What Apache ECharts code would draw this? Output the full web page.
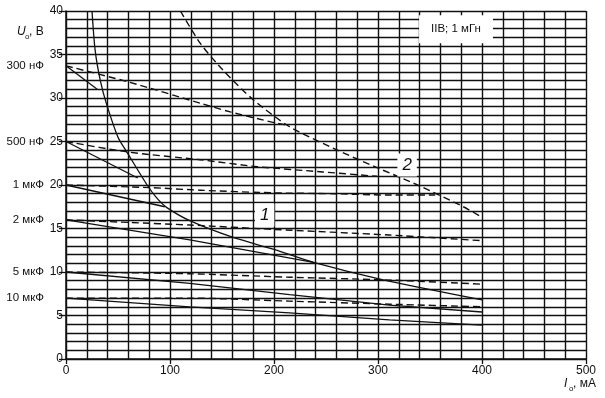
<!DOCTYPE html>
<html>
<head>
<meta charset="utf-8">
<script src="https://cdn.jsdelivr.net/npm/echarts@6/dist/echarts.min.js"></script>
<style>
html,body{margin:0;padding:0;background:#fff;}
#c{width:605px;height:398px;}
</style>
</head>
<body>
<div id="c"></div>
<script>
// ---- data (I in mA, U in V) ----
const xTicks = [0, 100, 200, 300, 400, 500];
const yTicks = [0, 5, 10, 15, 20, 25, 30, 35, 40];
const capLabels = ['300 нФ', '500 нФ', '1 мкФ', '2 мкФ', '5 мкФ', '10 мкФ'];
const capStart = [33.7, 25, 20, 16, 10, 7];

const curve1 = [[25,40],[28,35.5],[33,32],[39,29.3],[50,25.5],[59,23.7],[78,20],[88,18.4],[97,17.4],[119,15.9],[160,14.0],[200,12.6],[238,11.1],[305,9.1],[400,6.8]];
const curve2 = [[110,40],[129,36.3],[151,33.2],[180,29.8],[215,26.7],[261,24.0],[299,22.0],[338,20.0],[382,17.5],[400,16.3]];

const c300Solid = [[0,33.7],[30,31.0]];
const c500Solid = [[0,25],[69,20.8]];
const c1Solid = [[0,20],[95,17.5]];
const c2Solid = [[0,16],[119,13.7],[238,11.1]];
const c5Solid = [[0,10],[119,8.7],[215,7.4],[311,6.2],[400,5.4]];
const c10Solid = [[0,7],[119,6.0],[215,5.3],[311,4.5],[400,3.9]];

const c300Dash = [[0,33.7],[61.5,31.8],[129,29.4],[158,28.4],[199,27.2],[212,26.9]];
const c500Dash = [[0,25],[59,23.8],[129,22.9],[184,22.1],[247,21.5],[299,21.0]];
const c1Dash = [[0,20],[81,19.7],[129,19.4],[199,19.1],[257,19.0],[309,18.85],[355,18.85]];
const c2Dash = [[0,16],[60,15.7],[119,15.4],[199,14.9],[311,14.25],[400,13.6]];
const c5Dash = [[0,10],[119,9.8],[215,9.4],[305,9.1],[400,8.6]];
const c10Dash = [[0,7],[119,7.0],[215,6.65],[311,6.3],[400,6.0]];

const curveNames = ['1', '2'];
const curveNamePos = [[191,16.55],[328,22.3]];
const noteText = 'IIB; 1 мГн';
const notePos = [375, 37.9];

// ---- chart ----
const FONT = 'Liberation Sans, Arial, sans-serif';
const INK = '#111111';
function line(data, dashed, smooth) {
  return {
    type: 'line', data: data, xAxisIndex: 0, yAxisIndex: 0,
    showSymbol: false, symbol: 'none', smooth: smooth ? 0.25 : false,
    silent: true, animation: false, z: 3,
    lineStyle: { color: INK, width: dashed ? 1.4 : 1.3, type: dashed ? [7, 4] : 'solid' }
  };
}
function textSeries(data, label) {
  return {
    type: 'scatter', xAxisIndex: 0, yAxisIndex: 0, symbolSize: 0, silent: true, animation: false, z: 5,
    itemStyle: { opacity: 1 },
    emphasis: { disabled: true },
    data: data,
    label: Object.assign({ show: true, formatter: p => p.name, color: INK, opacity: 1, fontFamily: FONT }, label)
  };
}
const series = [
  line(curve1, false, true), line(curve2, true, true),
  line(c300Solid, false), line(c500Solid, false), line(c1Solid, false),
  line(c2Solid, false), line(c5Solid, false), line(c10Solid, false),
  line(c300Dash, true, true), line(c500Dash, true, true), line(c1Dash, true, true),
  line(c2Dash, true, true), line(c5Dash, true, true), line(c10Dash, true, true),
  textSeries(capStart.map((v, i) => ({ value: [0, v], name: capLabels[i] })),
    { position: 'left', distance: 22, fontSize: 11.5 }),
  textSeries(curveNamePos.map((p, i) => ({ value: p, name: curveNames[i] })),
    { position: 'inside', fontSize: 17, fontStyle: 'italic', backgroundColor: '#fff', padding: [3, 5] }),
  textSeries([{ value: notePos, name: noteText }],
    { position: 'inside', fontSize: 11.5, backgroundColor: '#fff', padding: [8, 12] })
];

const chart = echarts.init(document.getElementById('c'), null, { renderer: 'canvas' });
chart.setOption({
  animation: false,
  backgroundColor: '#fff',
  grid: { left: 66, top: 11, width: 520, height: 348, containLabel: false },
  xAxis: [
    { type: 'value', min: 0, max: 500, interval: 20, position: 'bottom',
      axisLine: { show: true, lineStyle: { color: INK, width: 1.5 } },
      axisTick: { show: false }, axisLabel: { show: false },
      splitLine: { show: true, lineStyle: { color: INK, width: 1.4 } } },
    { type: 'value', min: xTicks[0], max: xTicks[xTicks.length - 1], interval: xTicks[1] - xTicks[0], position: 'bottom',
      axisLine: { show: false },
      axisTick: { show: true, length: 5, lineStyle: { color: INK, width: 1.3 } },
      axisLabel: { show: true, margin: 6, fontFamily: FONT, fontSize: 12, color: INK },
      splitLine: { show: false } }
  ],
  yAxis: [
    { type: 'value', min: 0, max: 40, interval: 1, position: 'left',
      axisLine: { show: true, lineStyle: { color: INK, width: 1.5 } },
      axisTick: { show: false }, axisLabel: { show: false },
      splitLine: { show: true, lineStyle: { color: INK, width: 1.3 } } },
    { type: 'value', min: yTicks[0], max: yTicks[yTicks.length - 1], interval: yTicks[1] - yTicks[0], position: 'left',
      axisLine: { show: false },
      axisTick: { show: true, length: 7, lineStyle: { color: INK, width: 1.3 } },
      axisLabel: { show: true, margin: 3, fontFamily: FONT, fontSize: 12, color: INK },
      splitLine: { show: false } }
  ],
  graphic: [
    { type: 'text', left: 17, top: 26, style: { text: 'U', font: 'italic 12px ' + FONT, fill: INK } },
    { type: 'text', left: 25, top: 33, style: { text: 'o', font: '8px ' + FONT, fill: INK } },
    { type: 'text', left: 29, top: 26, style: { text: ', В', font: '12px ' + FONT, fill: INK } },
    { type: 'text', left: 564, top: 378, style: { text: 'I', font: 'italic 12px ' + FONT, fill: INK } },
    { type: 'text', left: 569, top: 385, style: { text: 'o', font: '8px ' + FONT, fill: INK } },
    { type: 'text', left: 573, top: 378, style: { text: ', мА', font: '12px ' + FONT, fill: INK } }
  ],
  series: series
});
</script>
</body>
</html>
